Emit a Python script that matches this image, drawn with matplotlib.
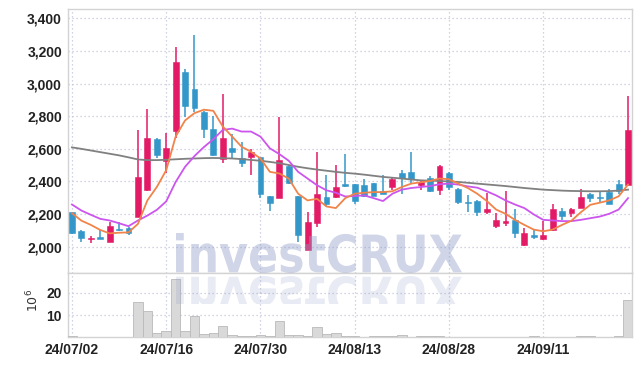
import matplotlib
matplotlib.use("Agg")
import matplotlib.pyplot as plt
from matplotlib.textpath import TextPath
from matplotlib.patches import PathPatch, Rectangle
from matplotlib.font_manager import FontProperties
from matplotlib.transforms import Affine2D, IdentityTransform
import numpy as np

dates = ["24/07/02", "24/07/03", "24/07/04", "24/07/05", "24/07/08", "24/07/09", "24/07/10", "24/07/11",
         "24/07/12", "24/07/15", "24/07/16", "24/07/17", "24/07/18", "24/07/19", "24/07/22", "24/07/23",
         "24/07/24", "24/07/25", "24/07/26", "24/07/29", "24/07/30", "24/07/31", "24/08/01", "24/08/02",
         "24/08/05", "24/08/06", "24/08/07", "24/08/08", "24/08/09", "24/08/12", "24/08/13", "24/08/14",
         "24/08/16", "24/08/19", "24/08/20", "24/08/21", "24/08/22", "24/08/23", "24/08/26", "24/08/27",
         "24/08/28", "24/08/29", "24/08/30", "24/09/02", "24/09/03", "24/09/04", "24/09/05", "24/09/06",
         "24/09/09", "24/09/10", "24/09/11", "24/09/12", "24/09/13", "24/09/19", "24/09/20", "24/09/23",
         "24/09/24", "24/09/25", "24/09/26", "24/09/27"]

open_ = [2212, 2099, 2045, 2058, 2027, 2111, 2114, 2181, 2346, 2661, 2527, 2712, 3070, 2967, 2826, 2722,
         2535, 2607, 2543, 2552, 2550, 2311, 2298, 2494, 2309, 1979, 2146, 2303, 2305, 2383, 2383, 2377,
         2393, 2344, 2366, 2449, 2461, 2377, 2424, 2346, 2449, 2356, 2276, 2278, 2216, 2126, 2148, 2167,
         2010, 2074, 2045, 2103, 2222, 2206, 2237, 2321, 2305, 2333, 2383, 2377]
high = [2215, 2103, 2064, 2105, 2150, 2150, 2119, 2716, 2844, 2665, 2700, 3227, 3087, 3297, 2829, 2803,
        2938, 2689, 2644, 2597, 2550, 2311, 2794, 2498, 2309, 2210, 2582, 2442, 2504, 2566, 2387, 2418,
        2393, 2442, 2428, 2469, 2578, 2412, 2434, 2504, 2459, 2360, 2319, 2284, 2329, 2206, 2342, 2233,
        2113, 2103, 2160, 2263, 2239, 2239, 2356, 2329, 2342, 2356, 2412, 2922]
low = [2078, 2027, 2023, 2048, 2027, 2099, 2074, 2181, 2342, 2545, 2449, 2665, 2794, 2823, 2665, 2558,
       2515, 2535, 2486, 2442, 2298, 2220, 2298, 2383, 2029, 1979, 2119, 2247, 2298, 2366, 2259, 2305,
       2311, 2321, 2346, 2325, 2391, 2350, 2338, 2319, 2346, 2263, 2212, 2191, 2202, 2113, 2130, 2053,
       2006, 2047, 2041, 2099, 2161, 2181, 2237, 2274, 2270, 2261, 2325, 2377]
close = [2082, 2051, 2056, 2050, 2130, 2103, 2086, 2428, 2665, 2562, 2603, 3130, 2860, 2850, 2720, 2562,
         2669, 2582, 2515, 2580, 2321, 2268, 2531, 2391, 2070, 2150, 2325, 2259, 2364, 2374, 2280, 2309,
         2311, 2321, 2418, 2422, 2418, 2397, 2342, 2494, 2366, 2274, 2270, 2212, 2233, 2167, 2160, 2082,
         2086, 2058, 2074, 2233, 2187, 2233, 2305, 2300, 2298, 2261, 2342, 2716]

ma_short = [2206, 2160, 2134, 2103, 2082, 2086, 2088, 2140, 2284, 2366, 2469, 2675, 2774, 2819, 2840, 2833,
            2737, 2675, 2613, 2582, 2541, 2459, 2449, 2418, 2325, 2284, 2294, 2247, 2237, 2298, 2325, 2331,
            2335, 2335, 2340, 2366, 2387, 2395, 2403, 2418, 2414, 2387, 2360, 2325, 2281, 2228, 2202, 2165,
            2134, 2105, 2095, 2105, 2134, 2160, 2212, 2257, 2270, 2284, 2309, 2381]
ma_mid = [2259, 2222, 2196, 2171, 2161, 2144, 2126, 2161, 2191, 2226, 2278, 2397, 2490, 2556, 2611, 2659,
          2716, 2724, 2706, 2706, 2675, 2603, 2568, 2527, 2459, 2418, 2377, 2346, 2331, 2308, 2311, 2315,
          2298, 2280, 2325, 2350, 2360, 2366, 2372, 2383, 2387, 2381, 2370, 2362, 2340, 2315, 2284, 2259,
          2237, 2198, 2165, 2161, 2157, 2157, 2165, 2175, 2185, 2202, 2228, 2298]
ma_long = [2609, 2600, 2590, 2580, 2570, 2560, 2548, 2535, 2531, 2531, 2533, 2536, 2539, 2541, 2543, 2544,
           2543, 2541, 2537, 2532, 2527, 2520, 2512, 2501, 2490, 2481, 2473, 2466, 2459, 2453, 2448, 2442,
           2435, 2428, 2423, 2418, 2412, 2407, 2405, 2403, 2400, 2397, 2392, 2387, 2382, 2377, 2372, 2366,
           2360, 2355, 2350, 2347, 2344, 2342, 2341, 2340, 2340, 2341, 2344, 2350]

volume = [0.8, 0.2, 0.1, 0.1, 0.2, 0.1, 0.1, 16.0, 12.0, 1.9, 2.8, 26.2, 2.8, 9.4, 1.4, 1.9,
          5.0, 1.0, 0.7, 0.6, 1.0, 0.5, 7.1, 1.2, 1.1, 0.5, 4.5, 1.3, 1.8, 0.6, 0.4, 0.3,
          0.5, 0.5, 0.6, 0.9, 0.3, 0.5, 0.5, 0.6, 0.3, 0.2, 0.2, 0.3, 0.2, 0.2, 0.2, 0.2,
          0.2, 0.5, 0.3, 0.3, 0.2, 0.2, 0.4, 0.4, 0.2, 0.2, 0.4, 16.6]

price_ticks = [2000, 2200, 2400, 2600, 2800, 3000, 3200, 3400]
vol_ticks = [10, 20]
date_tick_idx = [0, 10, 20, 30, 40, 50]

UP = "#e31b67"
DOWN = "#3497c9"
GRID = "#c3c7dc"
SPINE = "#d3d3d3"
TICKFONT = dict(family=["Liberation Sans", "DejaVu Sans"], weight="bold", size=10)

W, H = 642, 366
fig = plt.figure(figsize=(W / 100, H / 100), dpi=100)
ax = fig.add_axes([68 / W, 1 - 272.7 / H, (632 - 68) / W, (272.7 - 9) / H])
axv = fig.add_axes([68 / W, 1 - 337.3 / H, (632 - 68) / W, (337.3 - 272.7) / H], sharex=ax)

x = np.arange(len(dates))
o = np.array(open_, float); c = np.array(close, float)
hi = np.array(high, float); lo = np.array(low, float)
up = c >= o
cols = [UP if u else DOWN for u in up]

ax.vlines(x, lo, hi, colors=cols, linewidth=1.1, zorder=3)
bottoms = np.minimum(o, c)
heights = np.maximum(np.abs(c - o), 3)
ax.bar(x, heights, bottom=bottoms, width=0.62, color=cols, edgecolor=cols, linewidth=0.4, zorder=4)

ax.plot(x, ma_long, color="#808080", linewidth=1.3, zorder=5)
ax.plot(x, ma_mid, color="#cc55ee", linewidth=1.3, zorder=5)
ax.plot(x, ma_short, color="#f0844a", linewidth=1.3, zorder=5)

ax.set_xlim(-0.42, 59.42)
ax.set_ylim(1841, 3457)
ax.set_yticks(price_ticks)
ax.set_yticklabels([f"{t:,}" for t in price_ticks], **TICKFONT)

axv.bar(x, volume, width=1.0, color="#d9d9d9", edgecolor="#b9b9b9", linewidth=0.6, zorder=3)
axv.set_ylim(0, 29)
axv.set_yticks(vol_ticks)
axv.set_yticklabels([str(t) for t in vol_ticks], **TICKFONT)
axv.set_xticks(date_tick_idx)
axv.set_xticklabels([dates[i] for i in date_tick_idx], **TICKFONT)

for a in (ax, axv):
    a.grid(True, linestyle=(0, (1, 2.2)), color=GRID, linewidth=0.9, zorder=0)
    a.set_axisbelow(True)
    a.tick_params(length=0, colors="#222222")
    a.tick_params(axis="y", pad=4.3)
    a.tick_params(axis="x", pad=3.9)
    for s in a.spines.values():
        s.set_color(SPINE)
        s.set_linewidth(1.0)
ax.tick_params(axis="x", labelbottom=False)

fig.text(33 / W, 1 - 300 / H, r"$10^6$", rotation=90, ha="center", va="center", fontsize=9, color="#333333")

# watermark
fp = FontProperties(family="DejaVu Sans", weight="bold")
tp = TextPath((0, 0), "investCRUX", prop=fp, size=50)
ext = tp.get_extents()
x0, x1 = 176, 462
yb, yt = H - 273, H - 233
sx = (x1 - x0) / ext.width
sy = (yt - yb) / ext.height
tr = Affine2D().translate(-ext.x0, -ext.y0).scale(sx, sy).translate(x0, yb)
patch = PathPatch(tr.transform_path(tp), facecolor="#8f9cc8", edgecolor="none", alpha=0.42,
                  transform=IdentityTransform(), zorder=10)
fig.add_artist(patch)
tr2 = Affine2D().translate(-ext.x0, -ext.y0).scale(sx, -sy).translate(x0, H - 276)
patch2 = PathPatch(tr2.transform_path(tp), facecolor="#8f9cc8", edgecolor="none", alpha=0.2,
                   transform=IdentityTransform(), zorder=10)
fig.add_artist(patch2)
clip = Rectangle((0, H - 304), W, 30, transform=IdentityTransform())
patch2.set_clip_path(clip)

fig.savefig("out.png", dpi=100)
